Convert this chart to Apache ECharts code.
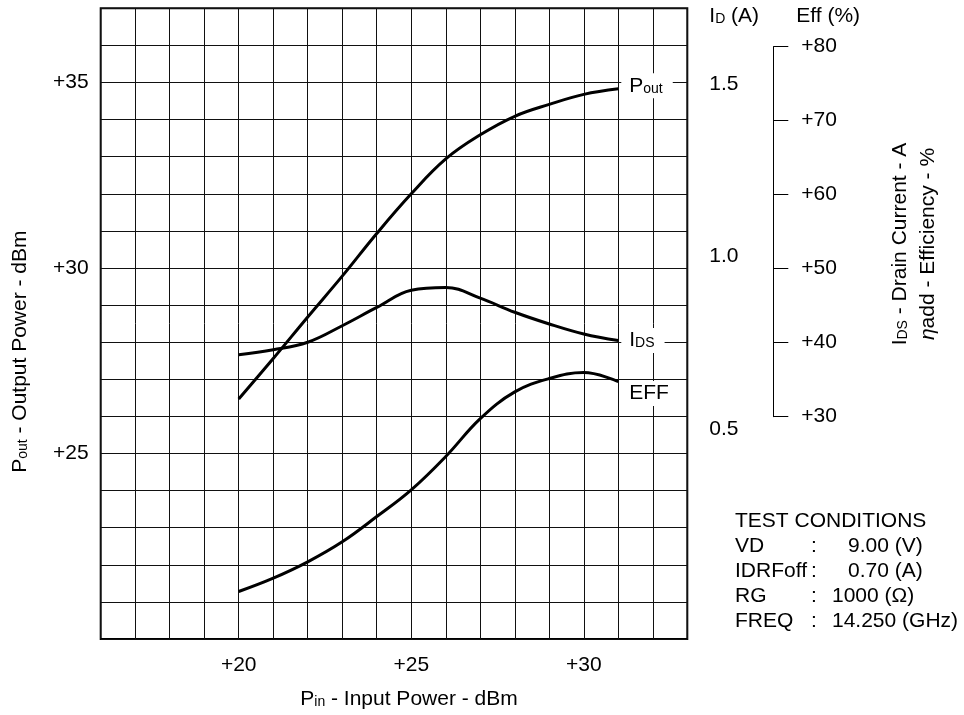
<!DOCTYPE html>
<html>
<head>
<meta charset="utf-8">
<title>Pout / IDS / EFF vs Pin</title>
<script src="https://cdn.jsdelivr.net/npm/echarts@6.0.0/dist/echarts.min.js"></script>
<style>
  html, body { margin: 0; padding: 0; background: #fff; }
  #chart { width: 964px; height: 715px; }
</style>
</head>
<body>
<div id="chart"></div>
<script>
// input power sweep - dBm
var pin = [20, 21, 22, 23, 24, 25, 26, 27, 28, 29, 30, 31]
// output power - dBm
var pout = [26.47, 27.56, 28.68, 29.78, 30.93, 32.0, 32.94, 33.59, 34.09, 34.41, 34.68, 34.83]
// drain current - A
var ids = [0.715, 0.729, 0.751, 0.799, 0.852, 0.902, 0.910, 0.879, 0.838, 0.804, 0.775, 0.756]
// efficiency - %
var eff = [6.4, 8.2, 10.4, 13.1, 16.5, 20.1, 24.6, 29.7, 33.3, 35.1, 35.9, 34.7]

// labelled ticks
var pinLabels = [20, 25, 30]
var poutLabels = [25, 30, 35]
var idLabels = [0.5, 1.0, 1.5]

// test conditions box
var testNames = ['VD', 'IDRFoff', 'RG', 'FREQ']
var testValues = ['9.00 (V)', '0.70 (A)', '1000 (\u03A9)', '14.250 (GHz)']

var FONT = 'Liberation Sans, Arial, Helvetica, sans-serif'
var FS = 21

function pairs (ys) {
  return pin.map(function (x, i) { return [x, ys[i]] })
}

// rich styles for the small subscript letters
var richText = {
  n: { fontFamily: FONT, fontSize: FS, color: '#000' },
  s: { fontFamily: FONT, fontSize: 14, color: '#000', padding: [6, 0, 0, 0] }
}

var chart = echarts.init(document.getElementById('chart'))

var testLines = ['TEST CONDITIONS']
testNames.forEach(function (name, i) {
  var v = i < 2 ? '{vi|' + testValues[i] + '}' : '{v|' + testValues[i] + '}'
  testLines.push('{k|' + name + '}{c|:}' + v)
})

function curve (name, data, yIndex, label, offset) {
  return {
    name: name,
    type: 'line',
    xAxisIndex: 0,
    yAxisIndex: yIndex,
    data: pairs(data),
    smooth: 0.4,
    symbol: 'none',
    silent: true,
    lineStyle: { color: '#000', width: 3 },
    endLabel: {
      show: true,
      formatter: label,
      distance: 3,
      offset: offset,
      backgroundColor: '#fff',
      padding: [2, 10, 2, 8],
      fontFamily: FONT,
      fontSize: FS,
      color: '#000',
      rich: richText
    }
  }
}

var option = {
  animation: false,
  backgroundColor: '#fff',
  textStyle: { fontFamily: FONT },
  title: {
    left: 735,
    top: 509,
    padding: 0,
    text: testLines.join('\n'),
    textStyle: {
      fontFamily: FONT,
      fontSize: FS,
      fontWeight: 'normal',
      color: '#000',
      lineHeight: 25,
      rich: {
        k: { fontFamily: FONT, fontSize: FS, color: '#000', width: 76, lineHeight: 25 },
        c: { fontFamily: FONT, fontSize: FS, color: '#000', width: 21, lineHeight: 25 },
        v: { fontFamily: FONT, fontSize: FS, color: '#000', lineHeight: 25 },
        vi: { fontFamily: FONT, fontSize: FS, color: '#000', lineHeight: 25, padding: [0, 0, 0, 16] }
      }
    }
  },
  grid: [
    {
      left: 100.7,
      right: 276.7,
      top: 8.3,
      bottom: 76,
      outerBoundsMode: 'none',
      containLabel: false,
      show: true,
      borderColor: '#000',
      borderWidth: 2
    },
    {
      // separate short frame that carries only the efficiency scale
      left: 700,
      right: 190.7,
      top: 46.7,
      bottom: 298.3,
      outerBoundsMode: 'none',
      containLabel: false
    }
  ],
  xAxis: [
    {
      type: 'value',
      gridIndex: 0,
      min: 16,
      max: 33,
      interval: 1,
      axisLine: { show: false },
      axisTick: { show: false },
      splitLine: { show: true, lineStyle: { color: '#111', width: 1 } },
      axisLabel: {
        margin: 16,
        fontFamily: FONT,
        fontSize: FS,
        color: '#000',
        formatter: function (v) {
          return pinLabels.indexOf(v) >= 0 ? '+' + v : ''
        }
      },
      name: '{n|P}{s|in}{n| - Input Power - dBm}',
      nameLocation: 'middle',
      nameGap: 50,
      nameTextStyle: { padding: [0, 0, 0, 30], rich: richText }
    },
    { type: 'value', gridIndex: 1, show: false, min: 0, max: 1 }
  ],
  yAxis: [
    {
      type: 'value',
      gridIndex: 0,
      position: 'left',
      min: 20,
      max: 37,
      interval: 1,
      axisLine: { show: false, onZero: false },
      axisTick: { show: false },
      splitLine: { show: true, lineStyle: { color: '#111', width: 1 } },
      axisLabel: {
        margin: 12,
        fontFamily: FONT,
        fontSize: FS,
        color: '#000',
        formatter: function (v) {
          return poutLabels.indexOf(v) >= 0 ? '+' + v : ''
        }
      },
      name: '{n|P}{s|out}{n| - Output Power - dBm}',
      nameLocation: 'middle',
      nameGap: 70,
      nameTextStyle: { padding: [0, 56, 0, 0], rich: richText }
    },
    {
      // drain current scale, labels only
      type: 'value',
      gridIndex: 0,
      position: 'right',
      min: -0.11,
      max: 1.72,
      axisLine: { show: false, onZero: false },
      axisTick: { show: false },
      splitLine: { show: false },
      axisLabel: {
        margin: 22,
        fontFamily: FONT,
        fontSize: FS,
        color: '#000',
        customValues: idLabels,
        formatter: function (v) { return v.toFixed(1) }
      },
      name: '{n|I}{s|D}{n| (A)}',
      nameLocation: 'end',
      nameGap: -8,
      nameTextStyle: { align: 'left', verticalAlign: 'middle', padding: [0, 0, 0, 22], rich: richText }
    },
    {
      // efficiency values over the full plot height
      type: 'value',
      gridIndex: 0,
      show: false,
      min: 0,
      max: 85
    },
    {
      type: 'value',
      gridIndex: 1,
      position: 'right',
      min: 30,
      max: 80,
      interval: 10,
      axisLine: { show: true, onZero: false, lineStyle: { color: '#000', width: 1 } },
      axisTick: { show: true, length: 15, lineStyle: { color: '#000', width: 1 } },
      splitLine: { show: false },
      axisLabel: {
        margin: 28,
        fontFamily: FONT,
        fontSize: FS,
        color: '#000',
        formatter: function (v) { return '+' + v }
      },
      name: 'Eff (%)',
      nameLocation: 'end',
      nameGap: 30,
      nameTextStyle: {
        align: 'left',
        verticalAlign: 'middle',
        padding: [0, 0, 0, 23],
        fontFamily: FONT,
        fontSize: FS,
        color: '#000'
      }
    }
  ],
  graphic: [
    {
      type: 'text',
      x: 914,
      y: 244,
      rotation: Math.PI / 2,
      silent: true,
      style: {
        text: '{n|I}{s|DS}{n| - Drain Current - A}\n{i|\u03B7}{n|add - Efficiency - %}',
        align: 'center',
        textAlign: 'center',
        verticalAlign: 'middle',
        textVerticalAlign: 'middle',
        lineHeight: 28.5,
        rich: {
          n: { fontFamily: FONT, fontSize: FS, fill: '#000', lineHeight: 28.5 },
          i: { fontFamily: FONT, fontSize: FS, fontStyle: 'italic', fill: '#000', lineHeight: 28.5 },
          s: { fontFamily: FONT, fontSize: 14, fill: '#000', lineHeight: 28.5, padding: [6, 0, 0, 0] }
        }
      }
    }
  ],
  series: [
    curve('Pout', pout, 0, '{n|P}{s|out}', [0, -3]),
    curve('IDS', ids, 1, '{n|I}{s|DS}', [0, 0]),
    curve('EFF', eff, 2, 'EFF', [0, 12])
  ]
}

chart.setOption(option)
</script>
</body>
</html>
